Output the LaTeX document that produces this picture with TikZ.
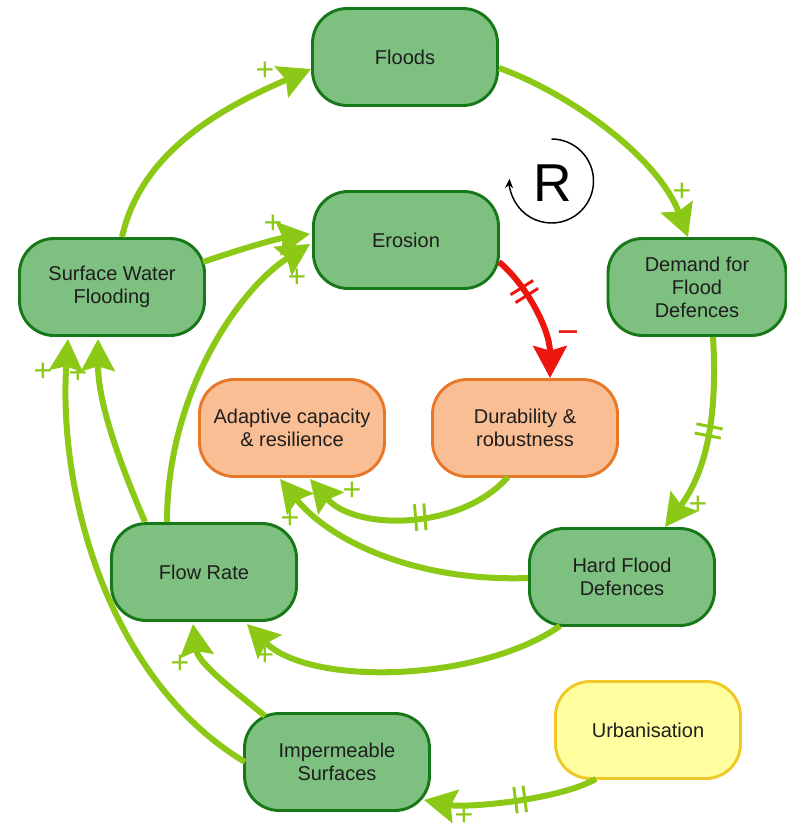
\documentclass[tikz,border=0pt]{standalone}
\usepackage{fontspec}
\setmainfont{Liberation Sans}
\usetikzlibrary{arrows.meta,calc,decorations.markings}
\definecolor{gfill}{RGB}{126,192,128}
\definecolor{gborder}{RGB}{22,120,24}
\definecolor{ofill}{RGB}{250,190,148}
\definecolor{oborder}{RGB}{232,120,40}
\definecolor{yfill}{RGB}{255,255,160}
\definecolor{yborder}{RGB}{240,200,40}
\definecolor{agreen}{RGB}{140,200,22}
\definecolor{ared}{RGB}{236,22,14}
\definecolor{textcol}{RGB}{30,30,30}
\begin{document}
\begin{tikzpicture}[x=0.75pt,y=-0.75pt,
  box/.style={rounded corners=26pt, minimum width=138.75pt, minimum height=72.75pt,
    line width=2.2pt, align=center, inner sep=2pt, text=textcol,
    font=\fontsize{15}{17.25}\selectfont},
  gbox/.style={box, draw=gborder, fill=gfill},
  obox/.style={box, draw=oborder, fill=ofill},
  ybox/.style={box, draw=yborder, fill=yfill},
  link/.style={draw=agreen, line width=4.5pt,
    -{Stealth[length=24pt,width=25pt,inset=3.5pt]}},
  neglink/.style={draw=ared, line width=4.5pt,
    -{Stealth[length=24pt,width=25pt,inset=3.5pt]}},
  ticks/.style 2 args={postaction={decorate, decoration={markings,
    mark=at position #1 with {\draw[-, line width=2.2pt, draw=#2]
      (-3.5pt,-10pt) -- (-3.5pt,10pt) (3.5pt,-10pt) -- (3.5pt,10pt);}}}},
  pluslab/.style={text=agreen, inner sep=0pt, text height=16pt, text depth=0pt,
    font=\fontsize{24}{24}\selectfont},
  minuslab/.style={text=ared, inner sep=0pt, font=\fontsize{28}{28}\selectfont},
  loopline/.style={draw=black, line width=1.1pt, -{Stealth[length=7pt,width=6pt]}}
]
\useasboundingbox (0,0) rectangle (786,828);

% nodes
\node[gbox] (floods) at (405,57) {Floods};
\node[gbox] (erosion) at (406,240) {Erosion};
\node[gbox] (swf) at (112,287) {Surface Water\\Flooding};
\node[gbox, minimum width=133.5pt] (demand) at (697,287) {Demand for\\Flood\\Defences};
\node[obox] (adapt) at (292,428) {Adaptive capacity\\\& resilience};
\node[obox] (durab) at (525,428) {Durability \&\\robustness};
\node[gbox] (flow) at (204,572) {Flow Rate};
\node[gbox] (hfd) at (622,577) {Hard Flood\\Defences};
\node[gbox] (imperm) at (337,762) {Impermeable\\Surfaces};
\node[ybox] (urban) at (648,730) {Urbanisation};

% R loop
\node[font=\fontsize{40}{40}\selectfont, inner sep=0pt] (rsym) at (553,183) {R};
\draw[loopline] ($(rsym.center)+(-1.5,-2)$) ++(0,-42)
  arc[start angle=-90, end angle=183, radius=42];

% connectors
\draw[link] ($(swf.north)+(10,0)$) .. controls +(20,-90) and +(-80,35) .. ($(floods.west)+(0,12)$);
\draw[link] ($(floods.east)+(0,11)$) .. controls +(70,25) and +(-30,-80) .. ($(demand.north)+(-9,0)$);
\draw[link, ticks={0.47}{agreen}] ($(demand.south)+(16,0)$) .. controls +(5,84) and +(40,-54) .. ($(hfd.north)+(43,0)$);
\draw[neglink, ticks={0.3}{ared}] ($(erosion.east)+(-1,22)$) .. controls +(25,20) and +(0,-50) .. ($(durab.north)+(25,0)$);
\draw[link] ($(swf.east)+(-3,-25)$) .. controls +(35,-12) and +(-35,5) .. ($(erosion.west)+(-2,-6)$);
\draw[link] ($(flow.north)+(-37,0)$) .. controls +(0,-130) and +(-70,44) .. ($(erosion.west)+(-2,4)$);
\draw[link] ($(flow.north)+(-59,0)$) .. controls +(-30,-70) and +(0,60) .. ($(swf.south)+(-14,2)$);
\draw[link] ($(imperm.west)+(2,0)$) .. controls +(-137,-82) and +(-10,153) .. ($(swf.south)+(-44,2)$);
\draw[link] ($(imperm.north)+(-72,4)$) .. controls +(-30,-25) and +(5,40) .. ($(flow.south)+(-11,2)$);
\draw[link] ($(hfd.south)+(-62,-1)$) .. controls +(-80,56) and +(63,63) .. ($(flow.south)+(43,2)$);
\draw[link] ($(hfd.west)+(0,1)$) .. controls +(-112,4) and +(50,62) .. ($(adapt.south)+(-12,1)$);
\draw[link, ticks={0.45}{agreen}] ($(durab.south)+(-17,-1)$) .. controls +(-48,54) and +(45,52) .. ($(adapt.south)+(18,1)$);
\draw[link, ticks={0.45}{agreen}] ($(urban.south)+(-52,-1)$) .. controls +(-40,22) and +(40,8) .. ($(imperm.east)+(-7,38)$);

% polarity labels
\node[pluslab] (p1) at (265,70) {+};
\node[pluslab] (p2) at (682,191) {+};
\node[pluslab] (p3) at (698,504) {+};
\node[minuslab] (m4) at (568,338) {−};
\node[pluslab] (p5) at (273,223) {+};
\node[pluslab] (p6) at (297,277) {+};
\node[pluslab] (p7) at (78,373) {+};
\node[pluslab] (p8) at (43,371) {+};
\node[pluslab] (p9) at (180,663) {+};
\node[pluslab] (p10) at (265,655) {+};
\node[pluslab] (p11) at (290,518) {+};
\node[pluslab] (p12) at (352,490) {+};
\node[pluslab] (p13) at (464,815) {+};
\end{tikzpicture}
\end{document}
